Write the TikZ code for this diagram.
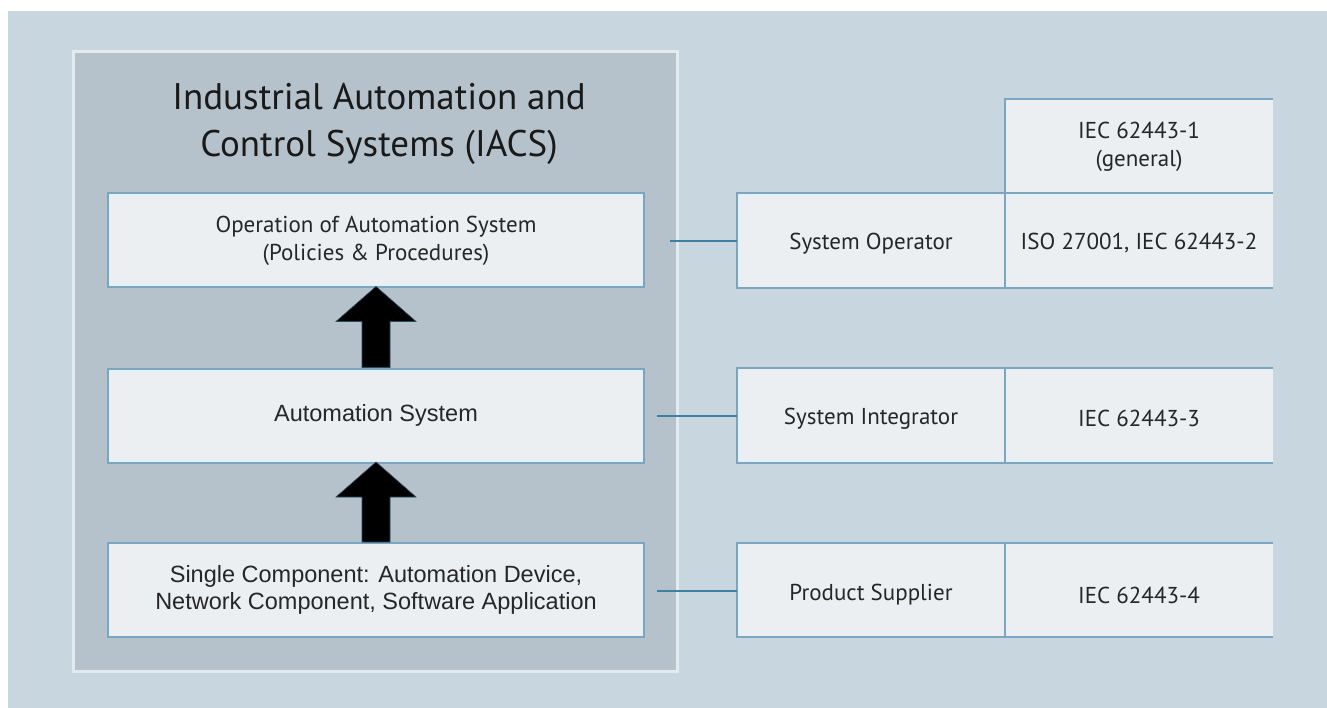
\documentclass[tikz,border=0pt]{standalone}
\usepackage{fontspec}
\newfontfamily\myr{PT Sans}
\newfontfamily\ari{Liberation Sans}
\definecolor{bgc}{HTML}{C8D6DF}
\definecolor{iacsc}{HTML}{B5C2CC}
\definecolor{iacsb}{HTML}{E4EBF0}
\definecolor{boxf}{HTML}{EBEFF2}
\definecolor{boxb}{HTML}{7AA6C2}
\definecolor{linec}{HTML}{3F7FA3}
\newcommand{\lowr}[2]{\raisebox{-#1pt}[\height][\depth]{#2}}
\tikzset{
  lbox/.style={fill=boxf, draw=boxb, line width=2pt, minimum width=536pt, minimum height=94pt, inner sep=0pt, align=center, text=black!85},
  cell/.style={fill=boxf, minimum width=268pt, minimum height=94pt, inner sep=0pt, align=center, text=black!85},
  tline/.style={draw=boxb, line width=2pt},
  conn/.style={draw=linec, line width=2.5pt},
  blockarrow/.style={fill=black, draw=linec!60!black, line width=0.6pt, line join=miter},
  mtxt/.style={font=\myr\fontsize{23}{28}\selectfont},
  atxt/.style={font=\ari\fontsize{23.5}{27}\selectfont},
}
\begin{document}
\begin{tikzpicture}[x=1pt,y=-1pt]
\useasboundingbox (0,0) rectangle (1327,708);
\fill[white] (0,0) rectangle (1327,708);
\fill[bgc] (8,11) rectangle (1327,708);
% IACS container
\node[fill=iacsc, draw=iacsb, line width=3pt, minimum width=604pt, minimum height=619pt, inner sep=0pt] (iacs) at (375,361.5) {};
\node[font=\myr\fontsize{37}{47}\selectfont, align=center, text=black!90] (title) at (379,124) {Industrial Automation and\\Control Systems (IACS)};
% left boxes
\node[lbox, mtxt] (op) at (376,240.5) {Operation of Automation System\\(Policies \& Procedures)};
\node[lbox, atxt] (auto) at (376,415.5) {Automation System};
\node[lbox, atxt] (single) at (376,590) {Single Component: Automation Device,\\Network Component, Software Application};
% block arrows
\draw[blockarrow] (auto.north) ++(-14,0) -- ++(0,-46) -- ++(-26,0) -- ++(40,-35) -- ++(40,35) -- ++(-26,0) -- ++(0,46) -- cycle;
\draw[blockarrow] (single.north) ++(-14,0) -- ++(0,-45) -- ++(-26,0) -- ++(40,-35) -- ++(40,35) -- ++(-26,0) -- ++(0,45) -- cycle;
% right table
\node[cell, mtxt] (gen) at (1139,146.5) {IEC 62443-1\\(general)};
\node[cell, mtxt] (role1) at (871,240.5) {\lowr{3}{System Operator}};
\node[cell, mtxt] (std1) at (1139,240.5) {\lowr{3}{ISO 27001, IEC 62443-2}};
\node[cell, mtxt] (role2) at (871,415.5) {\lowr{3}{System Integrator}};
\node[cell, mtxt] (std2) at (1139,415.5) {\lowr{3}{IEC 62443-3}};
\node[cell, mtxt] (role3) at (871,590) {\lowr{5}{Product Supplier}};
\node[cell, mtxt] (std3) at (1139,590) {\lowr{5}{IEC 62443-4}};
\draw[tline] (gen.north east) -- (gen.north west) -- (gen.south west);
\foreach \r/\s in {role1/std1, role2/std2, role3/std3}{
  \draw[tline] (\s.north east) -- (\r.north west) -- (\r.south west) -- (\s.south east);
  \draw[tline] (\r.north east) -- (\r.south east);
}
% connectors
\coordinate (c1) at (670,241);
\coordinate (c2) at (657,416);
\coordinate (c3) at (657,591);
\draw[conn] (c1) -- (c1 -| role1.west);
\draw[conn] (c2) -- (c2 -| role2.west);
\draw[conn] (c3) -- (c3 -| role3.west);
\end{tikzpicture}
\end{document}
